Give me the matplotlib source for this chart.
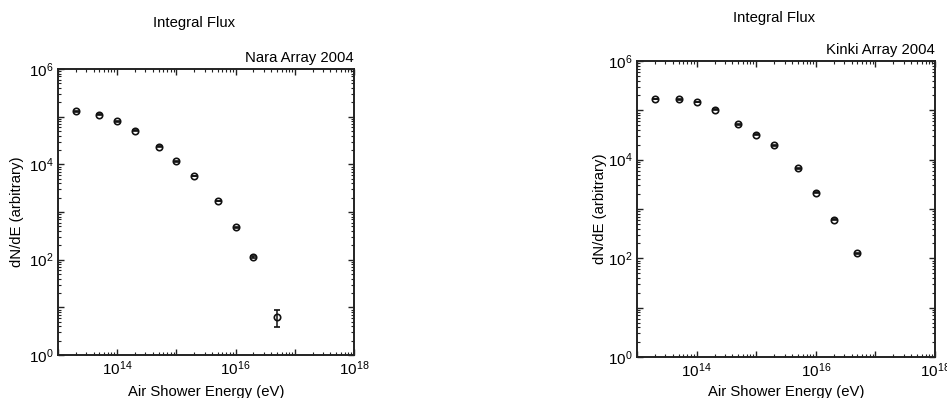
import matplotlib
matplotlib.use("Agg")
import matplotlib.pyplot as plt
from matplotlib.ticker import LogLocator, FuncFormatter, NullFormatter
import numpy as np

plt.rcParams['font.family'] = ['Liberation Sans', 'DejaVu Sans']
plt.rcParams['mathtext.fontset'] = 'custom'
plt.rcParams['mathtext.rm'] = 'Liberation Sans'
plt.rcParams['mathtext.it'] = 'Liberation Sans'
plt.rcParams['mathtext.default'] = 'regular'

# Nara Array 2004
nara_energy = [2e13, 5e13, 1e14, 2e14, 5e14, 1e15, 2e15, 5e15, 1e16, 2e16, 5e16]
nara_flux = [1.3e5, 1.1e5, 8.0e4, 5.1e4, 2.35e4, 1.16e4, 5.7e3, 1.7e3, 4.8e2, 1.13e2, 6.2]
nara_err_lo = [2.5e3, 2.2e3, 1.6e3, 1.0e3, 4.7e2, 2.3e2, 1.1e2, 3.4e1, 1.0e1, 4.0, 2.4]
nara_err_hi = [2.5e3, 2.2e3, 1.6e3, 1.0e3, 4.7e2, 2.3e2, 1.1e2, 3.4e1, 1.0e1, 4.0, 2.6]

# Kinki Array 2004
kinki_energy = [2e13, 5e13, 1e14, 2e14, 5e14, 1e15, 2e15, 5e15, 1e16, 2e16, 5e16]
kinki_flux = [1.7e5, 1.67e5, 1.48e5, 1.03e5, 5.2e4, 3.2e4, 1.95e4, 6.75e3, 2.13e3, 6.1e2, 1.26e2]
kinki_err = [3.4e3, 3.3e3, 3.0e3, 2.1e3, 1.0e3, 6.4e2, 3.9e2, 1.4e2, 4.3e1, 1.2e1, 4.0]

suptitle = "Integral Flux"
xlabel = "Air Shower Energy (eV)"
ylabel = "dN/dE (arbitrary)"

fig = plt.figure(figsize=(9.47, 3.98), dpi=100)
W, H = 947, 398

def px_axes(l, t, r, b):
    return fig.add_axes([l / W, 1 - b / H, (r - l) / W, (b - t) / H])

def fmt(v, pos):
    e = int(round(np.log10(v)))
    if e % 2 == 0:
        return r'$10^{%d}$' % e
    return ''

def style(ax, ylabel_x, xlabel_frac):
    ax.set_xscale('log')
    ax.set_yscale('log')
    ax.set_xlim(1e13, 1e18)
    ax.set_ylim(1, 1e6)
    for a in (ax.xaxis, ax.yaxis):
        a.set_major_locator(LogLocator(base=10, numticks=20))
        a.set_minor_locator(LogLocator(base=10, subs=np.arange(2, 10), numticks=20))
        a.set_major_formatter(FuncFormatter(fmt))
        a.set_minor_formatter(NullFormatter())
    ax.tick_params(which='major', direction='in', length=4, width=1, top=True, right=True,
                   labelsize=11, pad=3, color='#222222')
    ax.tick_params(which='minor', direction='in', length=2, width=0.8, top=True, right=True,
                   color='#222222')
    for s in ax.spines.values():
        s.set_linewidth(1.4)
        s.set_color('#222222')
    ax.set_xlabel(xlabel, fontsize=10.7)
    ax.xaxis.set_label_coords(0.5, xlabel_frac)
    ax.set_ylabel(ylabel, fontsize=10.7)
    bb = ax.get_position()
    ax.yaxis.set_label_coords((ylabel_x / W - bb.x0) / bb.width, 0.5)
    ax.yaxis.label.set_va('center')
    ax.xaxis.label.set_va('center')

ax1 = px_axes(58, 69, 354, 355)
style(ax1, 17, -(392 - 355) / 286)
ax1.errorbar(nara_energy, nara_flux, yerr=[nara_err_lo, nara_err_hi], fmt='o',
             mfc='none', mec='#111111', ms=4.6, mew=1.2, ecolor='#111111',
             elinewidth=1.1, capsize=2.3, capthick=1.1)
ax1.set_title("Nara Array 2004", loc='right', fontsize=10.7, pad=5)

ax2 = px_axes(637, 61, 935, 357)
style(ax2, 600, -(392 - 357) / 296)
ax2.errorbar(kinki_energy, kinki_flux, yerr=kinki_err, fmt='o',
             mfc='none', mec='#111111', ms=4.6, mew=1.2, ecolor='#111111',
             elinewidth=1.1, capsize=2.3, capthick=1.1)
ax2.set_title("Kinki Array 2004", loc='right', fontsize=10.7, pad=5)

fig.text(194 / W, 1 - 23 / H, suptitle, ha='center', va='center', fontsize=10.7)
fig.text(774 / W, 1 - 18 / H, suptitle, ha='center', va='center', fontsize=10.7)

fig.savefig("out.png", dpi=100)
